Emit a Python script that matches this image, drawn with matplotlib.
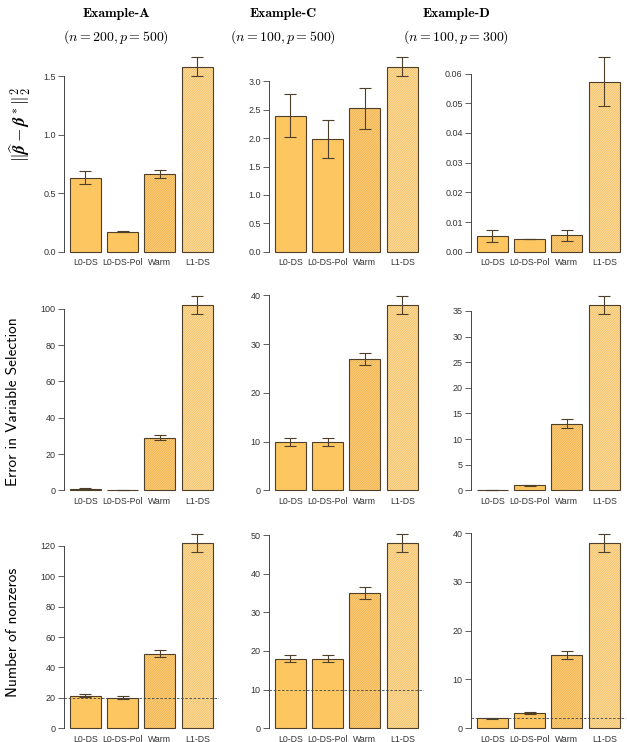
import matplotlib.pyplot as plt

plt.rcParams['mathtext.fontset'] = 'cm'
plt.rcParams['hatch.linewidth'] = 0.6

methods = ["L0-DS", "L0-DS-Pol", "Warm", "L1-DS"]
examples = ["Example-A", "Example-C", "Example-D"]
settings = [r"$(n = 200, p = 500)$", r"$(n = 100, p = 500)$", r"$(n = 100, p = 300)$"]

# row 1: squared l2 estimation error
l2_mean = [[0.635, 0.171, 0.665, 1.58],
           [2.39, 1.98, 2.52, 3.25],
           [0.0054, 0.0044, 0.0056, 0.0573]]
l2_se = [[0.054, 0.005, 0.036, 0.08],
         [0.38, 0.33, 0.36, 0.165],
         [0.0019, 0.0001, 0.0018, 0.0081]]
l2_ticks = [[0.0, 0.5, 1.0, 1.5],
            [0.0, 0.5, 1.0, 1.5, 2.0, 2.5, 3.0],
            [0.0, 0.01, 0.02, 0.03, 0.04, 0.05, 0.06]]

# row 2: error in variable selection
vs_mean = [[1.0, 0.2, 29.0, 102.0],
           [10.0, 10.0, 27.0, 38.0],
           [0.0, 1.0, 13.0, 36.1]]
vs_se = [[0.3, 0.1, 1.5, 5.0],
         [0.85, 0.85, 1.3, 1.9],
         [0.0, 0.1, 0.9, 1.8]]
vs_ticks = [[0, 20, 40, 60, 80, 100],
            [0, 10, 20, 30, 40],
            [0, 5, 10, 15, 20, 25, 30, 35]]

# row 3: number of nonzeros (dashed line = true support size)
nz_mean = [[21.2, 20.1, 49.0, 122.0],
           [18.0, 18.0, 35.0, 48.0],
           [2.0, 3.1, 15.0, 38.0]]
nz_se = [[1.0, 0.9, 2.4, 6.1],
         [0.9, 0.9, 1.6, 2.4],
         [0.1, 0.15, 0.9, 1.9]]
nz_ticks = [[0, 20, 40, 60, 80, 100, 120],
            [0, 10, 20, 30, 40, 50],
            [0, 10, 20, 30, 40]]
true_k = [20, 10, 2]

fills = ["#FDC661", "#FDC661", "#FDD488", "#FEE3AE"]
hatch_cols = [None, None, "#F0AE45", "#F3BC5C"]
edge = "#4E3F28"
tick_fonts = ["Liberation Sans Narrow", "DejaVu Sans Condensed", "Liberation Sans"]

fig = plt.figure(figsize=(6.27, 7.42), dpi=100)
W, H = 627.0, 742.0
col_left = [64, 269, 471]
col_width = 154.5
row_top = [49.7, 288.2, 525.9]
row_height = 210.0

rows = [(l2_mean, l2_se, l2_ticks, "%.1f"),
        (vs_mean, vs_se, vs_ticks, "%d"),
        (nz_mean, nz_se, nz_ticks, "%d")]

centers = [0.7 + 1.2 * i for i in range(4)]

for r, (means, ses, ticks, fmt) in enumerate(rows):
    for c in range(3):
        ax = fig.add_axes([col_left[c] / W, 1 - (row_top[r] + row_height) / H,
                           col_width / W, row_height / H])
        m, s = means[c], ses[c]
        top = max(mi + si for mi, si in zip(m, s))
        for i in range(4):
            if hatch_cols[i] is None:
                ax.bar(centers[i], m[i], width=1.0, color=fills[i], linewidth=0)
            else:
                ax.bar(centers[i], m[i], width=1.0, color=fills[i],
                       edgecolor=hatch_cols[i], hatch="/" * 14, linewidth=0)
            ax.bar(centers[i], m[i], width=1.0, fill=False, edgecolor=edge, linewidth=0.8)
        ax.errorbar(centers, m, yerr=s, fmt="none", ecolor=edge, elinewidth=0.8,
                    capsize=4.5, capthick=0.8)
        if r == 2:
            ax.axhline(true_k[c], color="#444444", linestyle=(0, (3, 2)), linewidth=0.6)
        ax.set_xlim(0.016, 4.984)
        ax.set_ylim(-0.04 * top, 1.04 * top)
        for side in ["top", "right", "bottom"]:
            ax.spines[side].set_visible(False)
        tk = ticks[c]
        ax.spines["left"].set_bounds(tk[0], tk[-1])
        ax.spines["left"].set_color("#444444")
        ax.spines["left"].set_linewidth(0.7)
        ax.set_yticks(tk)
        f = "%.2f" if (r == 0 and c == 2) else fmt
        ax.set_yticklabels([f % t for t in tk], family=tick_fonts, fontsize=6.5, color="#333333")
        ax.tick_params(axis="y", direction="out", length=4, width=0.6, color="#444444", pad=2)
        ax.set_xticks(centers)
        ax.set_xticklabels(methods, family=tick_fonts, fontsize=6.3, color="#333333")
        ax.tick_params(axis="x", length=0, pad=-1)

title_x = [116, 283, 456]
for c in range(3):
    fig.text(title_x[c] / W, 1 - 13.5 / H, examples[c], family="cmb10", fontsize=10,
             ha="center", va="center")
    fig.text(title_x[c] / W, 1 - 37 / H, settings[c], fontsize=10, ha="center", va="center")

fig.text(20 / W, 1 - 125 / H, r"$\|\widehat{\boldsymbol{\beta}} - \boldsymbol{\beta}^*\|_2^2$",
         rotation=90, fontsize=12.5, ha="center", va="center")
fig.text(13 / W, 1 - 402 / H, "Error in Variable Selection", family="cmss10", fontsize=11,
         rotation=90, ha="center", va="center")
fig.text(13 / W, 1 - 632 / H, "Number of nonzeros", family="cmss10", fontsize=11,
         rotation=90, ha="center", va="center")

fig.savefig("out.png", dpi=100)
